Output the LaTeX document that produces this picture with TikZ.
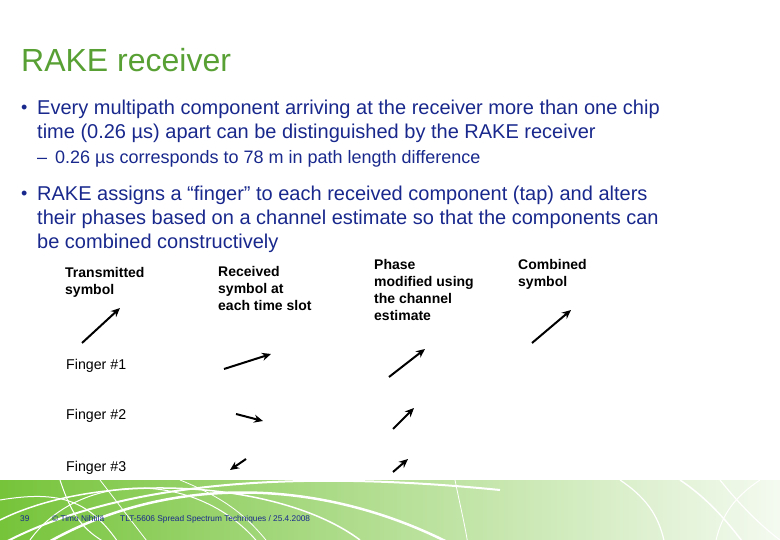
\documentclass[tikz,border=0pt]{standalone}
\usepackage{fontspec}
\setmainfont{Liberation Sans}
\usepackage{tikz}
\usetikzlibrary{calc, arrows.meta}

\definecolor{titlegreen}{RGB}{88,160,52}
\definecolor{textblue}{RGB}{24,40,140}
\definecolor{footgreen}{RGB}{118,196,58}
\definecolor{footmid}{RGB}{196,228,170}
\definecolor{footlight}{RGB}{244,250,240}

\tikzset{
  body/.style={anchor=base west, inner sep=0pt, text=textblue, font=\fontsize{20}{24}\selectfont},
  sub/.style={anchor=base west, inner sep=0pt, text=textblue, font=\fontsize{18}{20}\selectfont},
  colhead/.style={anchor=north west, inner sep=0pt, align=left, font=\fontsize{14}{17}\selectfont\bfseries},
  fingerlbl/.style={anchor=base west, inner sep=0pt, font=\fontsize{14.2}{17}\selectfont},
  phasor/.style={line width=2pt, -{Stealth[length=9pt,width=8pt]}},
  foot/.style={anchor=base west, inner sep=0pt, text=textblue, font=\fontsize{8.3}{9}\selectfont},
}

\begin{document}
\begin{tikzpicture}[x=1pt, y=-1pt]
  \useasboundingbox (0,0) rectangle (780,540);

  % footer band
  \shade[left color=footgreen, middle color=footmid, right color=footlight] (0,480) rectangle (780,540);
  \begin{scope}
    \clip (0,480) rectangle (780,540);
    \draw[white, line width=2.5pt] (20,560) .. controls (150,470) and (330,470) .. (480,560);
    \draw[white, line width=1.5pt] (0,520) .. controls (100,470) and (280,480) .. (360,540);
    \draw[white, line width=1pt] (30,540) .. controls (80,470) and (200,470) .. (260,545);
    \draw[white, line width=1pt] (0,500) .. controls (60,490) and (90,500) .. (120,545);
    \draw[white, line width=1pt] (60,480) .. controls (70,510) and (80,530) .. (110,545);
    \draw[white, line width=0.8pt] (100,480) -- (150,545);
    \draw[white, line width=0.8pt] (180,480) .. controls (230,500) and (250,520) .. (270,545);
    \draw[white, line width=2pt] (0,545) .. controls (120,480) and (300,470) .. (500,490);
    \draw[white, line width=1.2pt] (620,480) .. controls (650,500) and (660,520) .. (665,545);
    \draw[white, line width=1.2pt] (720,480) .. controls (740,505) and (760,525) .. (780,540);
    \draw[white, line width=1.5pt] (680,480) .. controls (710,500) and (730,525) .. (745,545);
    \draw[white, line width=1pt] (760,480) .. controls (730,500) and (720,520) .. (715,545);
    \draw[white, line width=0.8pt] (455,480) .. controls (460,505) and (465,525) .. (468,545);
  \end{scope}

  % title
  \node[anchor=base west, inner sep=0pt, text=titlegreen, font=\fontsize{32}{36}\selectfont] (title) at (21,72) {RAKE receiver};

  % bullets
  \node[body] (b1dot) at (21,114) {\fontsize{18}{18}\selectfont•};
  \node[body] (b1a) at (37,115) {Every multipath component arriving at the receiver more than one chip};
  \node[body] (b1b) at (37,139) {time (0.26 µs) apart can be distinguished by the RAKE receiver};
  \node[sub] (s1) at (37,164) {–\hspace{8pt}0.26 µs corresponds to 78 m in path length difference};
  \node[body] (b2dot) at (21,200) {\fontsize{18}{18}\selectfont•};
  \node[body] (b2a) at (37,201) {RAKE assigns a “finger” to each received component (tap) and alters};
  \node[body] (b2b) at (37,225) {their phases based on a channel estimate so that the components can};
  \node[body] (b2c) at (37,249) {be combined constructively};

  % column heads
  \node[colhead] (tx) at (65,267) {Transmitted\\symbol};
  \node[colhead] (rx) at (218,266) {Received\\symbol at\\each time slot};
  \node[colhead] (ph) at (374,259) {Phase\\modified using\\the channel\\estimate};
  \node[colhead] (cb) at (518,259) {Combined\\symbol};

  % fingers
  \node[fingerlbl] (f1) at (66,370) {Finger \#1};
  \node[fingerlbl] (f2) at (66,420) {Finger \#2};
  \node[fingerlbl] (f3) at (66,471) {Finger \#3};

  % phasors
  \draw[phasor] (82,343) -- (120,308);
  \draw[phasor] (224,369) -- (271,354);
  \draw[phasor] (236,414) -- (263,421);
  \draw[phasor] (246,459) -- (230,470);
  \draw[phasor] (389,377) -- (425,349);
  \draw[phasor] (393,429) -- (414,408);
  \draw[phasor] (393,472) -- (408,459);
  \draw[phasor] (532,343) -- (571,310);

  % footer text
  \node[foot] (pg) at (20,521) {39};
  \node[foot] (auth) at (52,521) {© Timo Nihtilä};
  \node[foot] (course) at (120,521) {TLT-5606 Spread Spectrum Techniques / 25.4.2008};
\end{tikzpicture}
\end{document}
